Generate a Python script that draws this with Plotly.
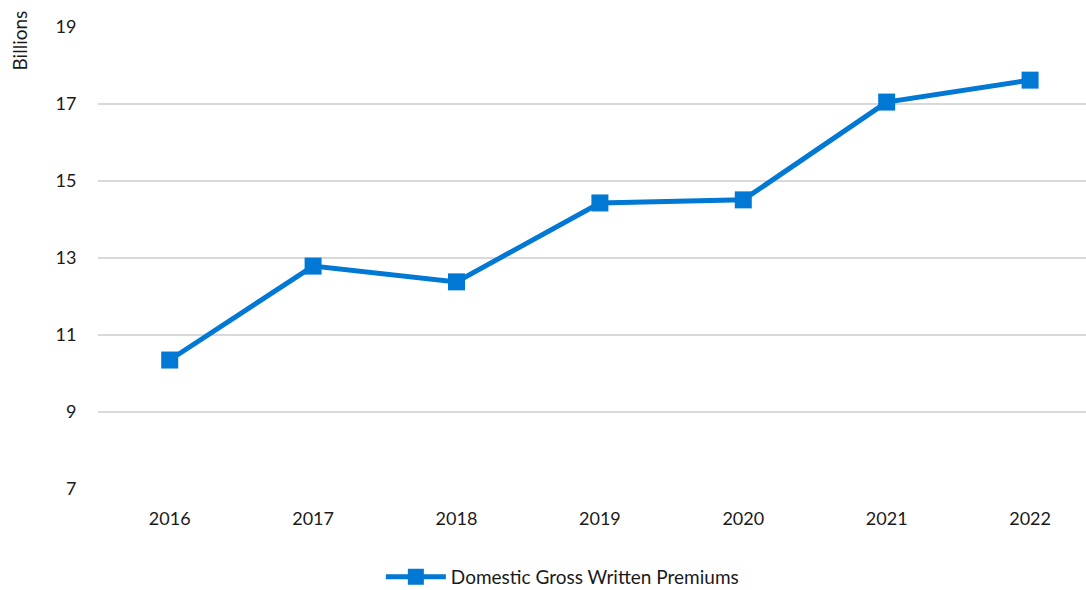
import plotly.graph_objects as go

years = ["2016", "2017", "2018", "2019", "2020", "2021", "2022"]
premiums = [10.35, 12.79, 12.38, 14.43, 14.51, 17.05, 17.62]
y_ticks = [7, 9, 11, 13, 15, 17, 19]

FONT = "Lato, 'Open Sans', sans-serif"
BLUE = "#0078D4"

fig = go.Figure()
fig.add_trace(go.Scatter(
    x=years, y=premiums, mode="lines+markers",
    name="Domestic Gross Written Premiums",
    line=dict(color=BLUE, width=5),
    marker=dict(symbol="square", size=17, color=BLUE),
))

fig.update_layout(
    width=1086, height=590,
    margin=dict(l=98, r=0, t=27, b=101, autoexpand=False),
    paper_bgcolor="white", plot_bgcolor="white",
    font=dict(family=FONT, size=18, color="#1a1a1a"),
    showlegend=True,
    legend=dict(orientation="h", x=0.47, xanchor="center", y=-0.19, yanchor="middle",
                font=dict(size=19), itemwidth=60, borderwidth=0,
                bgcolor="rgba(0,0,0,0)"),
    xaxis=dict(type="category", range=[-0.5, 6.39], showgrid=False, zeroline=False,
               showline=False, ticks="outside", ticklen=13, tickcolor="rgba(0,0,0,0)"),
    yaxis=dict(range=[7, 19], tickvals=y_ticks, showgrid=True, gridcolor="#d9d9d9",
               gridwidth=1.5, zeroline=False, showline=False,
               ticks="outside", ticklen=17, tickcolor="rgba(0,0,0,0)"),
    annotations=[dict(text="Billions", xref="paper", yref="paper", x=-0.079, y=1.04,
                      xanchor="center", yanchor="top", textangle=-90, showarrow=False,
                      font=dict(size=19))],
)

fig.write_html("out.html")
